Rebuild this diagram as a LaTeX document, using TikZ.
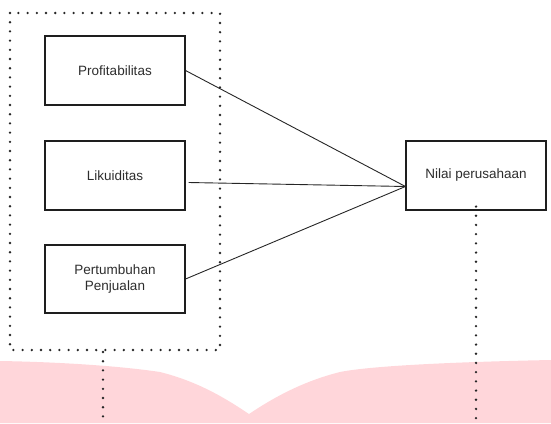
\documentclass[tikz,border=0pt]{standalone}
\usepackage{fontspec}
\setmainfont{Liberation Sans}
\definecolor{pinkfill}{RGB}{255,214,218}
\definecolor{boxline}{RGB}{30,30,30}
\definecolor{txt}{RGB}{45,45,45}
\begin{document}
\begin{tikzpicture}[x=1pt,y=-1pt,
  vbox/.style={draw=boxline, line width=1.1pt, minimum width=140pt, minimum height=69pt, inner sep=0pt, align=center, text=txt, font=\fontsize{13.5}{16}\selectfont},
  link/.style={draw=black!85, line width=0.9pt},
  dotline/.style={draw=black!85, line width=2.6pt, line cap=round, dash pattern=on 0pt off 9.2pt}]
\useasboundingbox (0,0) rectangle (551,423);
% pink background shape
\fill[pinkfill] (0,361) -- (0,423) -- (551,423) -- (551,360)
  .. controls (450,362) and (370,366) .. (340,372)
  .. controls (300,382) and (270,400) .. (249,414)
  .. controls (228,400) and (200,382) .. (160,372)
  .. controls (120,366) and (60,362) .. (0,361) -- cycle;
% dotted group frame
\draw[dotline] (10,13) rectangle (220,350);
% boxes
\node[vbox] (prof) at (115,70.5) {Profitabilitas};
\node[vbox] (liku) at (115,175.5) {Likuiditas};
\node[vbox, minimum height=68pt] (pert) at (115,279) {Pertumbuhan\\Penjualan};
\node[vbox] (nilai) at (476,175.5) {Nilai perusahaan};
\coordinate (join) at ([yshift=-11pt]nilai.west);
\coordinate (likustart) at ([xshift=3pt,yshift=-7pt]liku.east);
% connectors
\draw[link] (prof.east) -- (join);
\draw[link] (likustart) -- (join);
\draw[link] (pert.east) -- (join);
% dotted vertical lines
\coordinate (leftend) at (103,423);
\coordinate (rightend) at (476,423);
\draw[dotline] (103,352) -- (leftend);
\draw[dotline] ([yshift=4pt]nilai.south) -- (rightend);
\end{tikzpicture}
\end{document}
